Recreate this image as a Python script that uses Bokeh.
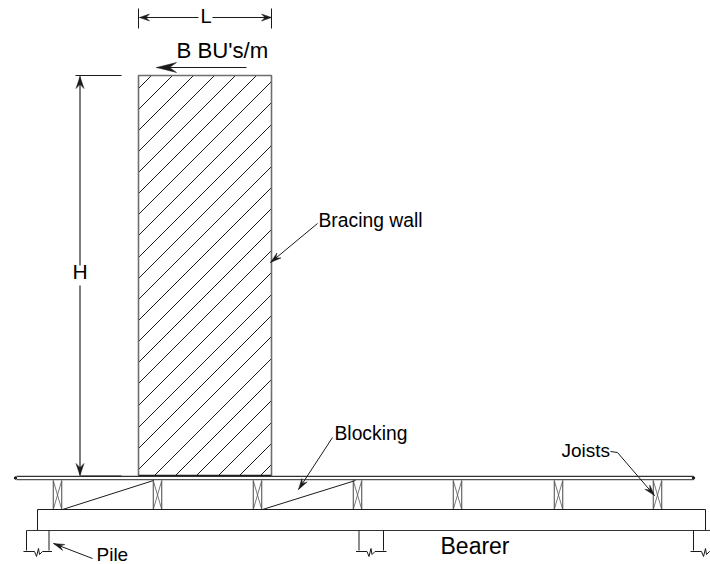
from bokeh.plotting import figure
from bokeh.models import Range1d
from bokeh.core.properties import value
from bokeh.embed import file_html
from bokeh.resources import INLINE

# Drawing geometry in its own units
wall = dict(x0=138, x1=271, y0=75, y1=475)
hatch_offsets = [226, 247, 268, 289, 310, 331, 352, 373, 395, 416, 437, 458, 479, 500,
                 521, 543, 565, 586, 607, 629, 650, 671, 693, 714, 735]
joist_x = [57, 157, 257, 357, 457, 558, 657]
joist_w = 8.5
joist_top, joist_bot = 480, 509
bearer = dict(x0=37, x1=705, y0=509, y1=530)
deck = dict(x0=16, x1=693, y0=475.8, y1=479.2)
blocking = [(62, 509, 153, 480), (262, 509, 355, 480)]
piles = [(26, 48.5), (358.5, 383), (693, 720)]
pile_bottom = 550
ink = "#1a1a1a"
grey = "#6e6e6e"

# (x0, y0, x1, y1, head length, head half width, colour, width) with the head at x1, y1
arrows = [
    (92, 558, 53, 543, 11, 3.2, ink, 1.0),        # Pile
    (317, 223, 270, 262, 11, 3.2, ink, 1.0),      # Bracing wall
    (332, 437, 298, 489, 11, 3.2, ink, 1.0),      # Blocking
    (617, 452, 654, 495, 11, 3.2, ink, 1.0),      # Joists
    (246, 67, 156, 67, 20, 5, ink, 1.2),          # B BU's/m
    (79.5, 265, 79.5, 76, 12, 4, grey, 1.8),      # H upper
    (79.5, 285, 79.5, 475, 12, 4, grey, 1.8),     # H lower
    (198, 17, 139, 17, 10, 3.5, ink, 1.0),        # L left
    (212, 17, 271, 17, 10, 3.5, ink, 1.0),        # L right
]
plain_lines = [
    ([75, 121], [75, 75]),
    ([138, 138], [8, 28]),
    ([271, 271], [8, 28]),
    ([610, 617], [451, 452]),
    ([80, 121], [475.5, 475.5]),
]
# text, left x, vertical middle of capitals, size in px
labels = [
    ("L", 200, 15, 20),
    ("B BU's/m", 176, 50, 22.2),
    ("H", 72, 270.5, 21),
    ("Bracing wall", 318, 220, 19.3),
    ("Blocking", 334, 432.5, 19.3),
    ("Joists", 561, 450, 19),
    ("Bearer", 440, 545, 23),
    ("Pile", 96, 554, 19),
]

p = figure(width=710, height=564, x_range=Range1d(0, 710), y_range=Range1d(564, 0),
           x_axis_type=None, y_axis_type=None, toolbar_location=None,
           output_backend="svg", min_border=0, outline_line_color=None)
p.grid.visible = False
p.background_fill_color = "white"

def seg(xs, ys, color=ink, width=1.0):
    p.line(xs, ys, line_color=color, line_width=width)

# hatching
for c in hatch_offsets:
    xa = max(wall["x0"], c - wall["y1"])
    ya = c - xa
    xb = min(wall["x1"], c - wall["y0"])
    yb = c - xb
    seg([xa, xb], [ya, yb], width=1.0)

# wall outline
seg([wall["x0"], wall["x0"], wall["x1"], wall["x1"]],
    [wall["y1"], wall["y0"], wall["y0"], wall["y1"]], color=grey, width=1.6)
seg([wall["x0"], wall["x1"]], [wall["y1"], wall["y1"]], width=1.6)

# deck
seg([deck["x0"], deck["x1"]], [deck["y0"], deck["y0"]], color="#333333", width=1.3)
seg([deck["x0"], deck["x1"]], [deck["y1"], deck["y1"]], color="#555555", width=1.3)
p.scatter([deck["x0"]-1, deck["x1"]], [477.5, 477.5], size=2.5, color=ink)

# joists
for x in joist_x:
    l, r = x - joist_w/2, x + joist_w/2
    seg([l, l], [joist_top, joist_bot], color="#444444")
    seg([r, r], [joist_top, joist_bot], color="#444444")
    seg([l, r], [joist_top, joist_bot], color="#555555", width=0.8)
    seg([r, l], [joist_top, joist_bot], color="#555555", width=0.8)

# blocking
for b in blocking:
    seg([b[0], b[2]], [b[1], b[3]])

# bearer
seg([bearer["x0"], bearer["x0"], bearer["x1"], bearer["x1"]],
    [bearer["y1"], bearer["y0"], bearer["y0"], bearer["y1"]])
seg([26, 710], [bearer["y1"], bearer["y1"]], color="#333333")

# piles with break lines
for l, r in piles:
    seg([l, l], [bearer["y1"], pile_bottom])
    seg([r, r], [bearer["y1"], pile_bottom])
    m = l + 12
    seg([l - 3, m - 4, m - 2, m, m + 1, m + 4, r + 3],
        [551, 551, 556, 548, 554, 551, 551])

for xs, ys in plain_lines:
    seg(xs, ys)

# arrows
hx, hy, hc = [], [], []
for x0, y0, x1, y1, hl, hw, col, w in arrows:
    seg([x0, x1], [y0, y1], color=col, width=w)
    dx, dy = x1 - x0, y1 - y0
    n = (dx*dx + dy*dy) ** 0.5
    ux, uy = dx/n, dy/n
    bx, by = x1 - ux*hl, y1 - uy*hl
    nx, ny = x1 - ux*hl*0.65, y1 - uy*hl*0.65
    hx.append([x1, bx - uy*hw, nx, bx + uy*hw])
    hy.append([y1, by + ux*hw, ny, by - ux*hw])
p.patches(hx, hy, fill_color=ink, line_color=ink, line_width=0.5)

for t, x, y, s in labels:
    p.text([x], [y], text=[t], text_font=value("Liberation Sans"),
           text_font_size=f"{s}px", text_color="#000000",
           text_align="left", text_baseline="middle")

open("out.html", "w").write(file_html(p, INLINE))
